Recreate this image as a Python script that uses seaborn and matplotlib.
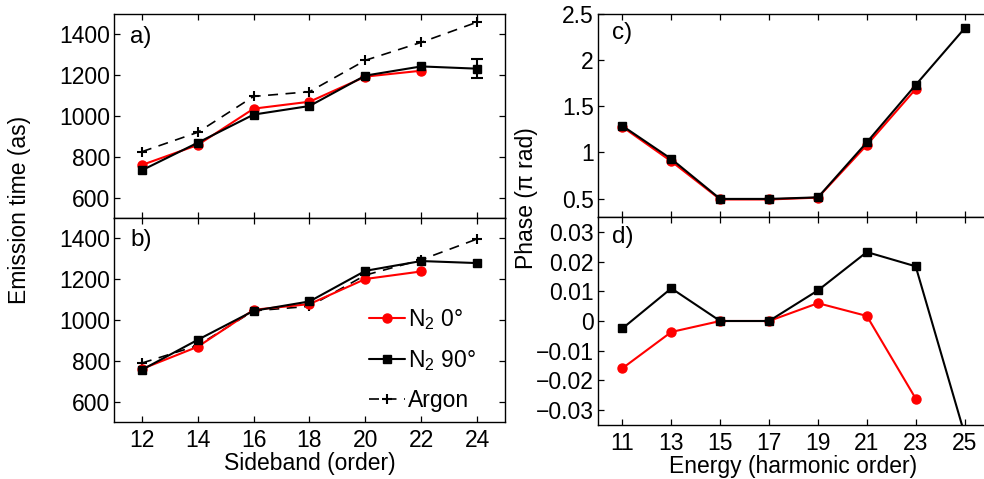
"""Emission times per sideband (a, b) and spectral phase per harmonic (c, d)."""

import matplotlib

matplotlib.use("Agg")
import matplotlib.pyplot as plt
import seaborn as sns
from matplotlib.ticker import FuncFormatter

# --- data ---------------------------------------------------------------
sidebands = [12, 14, 16, 18, 20, 22, 24]
harmonics = [11, 13, 15, 17, 19, 21, 23, 25]

# a) emission time (as)
a_n2_0 = [760, 858, 1036, 1070, 1193, 1222]
a_n2_90 = [734, 869, 1007, 1049, 1198, 1243, 1232]
a_argon = [825, 920, 1096, 1119, 1273, 1361, 1460]
a_err_sb = 24
a_err = 46

# b) emission time (as)
b_n2_0 = [760, 869, 1050, 1078, 1201, 1238]
b_n2_90 = [756, 903, 1045, 1091, 1241, 1289, 1279]
b_argon = [789, 875, 1045, 1067, 1220, 1295, 1397]

# c) phase (pi rad)
c_n2_0 = [1.276, 0.903, 0.49, 0.49, 0.51, 1.08, 1.687]
c_n2_90 = [1.287, 0.929, 0.496, 0.496, 0.513, 1.109, 1.731, 2.344]

# d) phase (pi rad)
d_n2_0 = [-0.0159, -0.0037, 0.0, 0.0, 0.006, 0.0017, -0.0261]
d_n2_90 = [-0.0025, 0.011, 0.0, 0.0, 0.0103, 0.0232, 0.0184, -0.038]

labels = ["N$_2$ 0°", "N$_2$ 90°", "Argon"]

RED = "#ff0000"
BLACK = "#000000"
FS = 16.5
W, H = 984, 479

sns.set_style("ticks")
plt.rcParams["font.family"] = ["Liberation Sans", "DejaVu Sans"]
plt.rcParams["mathtext.fontset"] = "custom"
plt.rcParams["mathtext.rm"] = "Liberation Sans"
plt.rcParams.update({
    "font.size": FS,
    "text.color": BLACK,
    "axes.labelcolor": BLACK,
    "axes.edgecolor": BLACK,
    "xtick.color": BLACK,
    "ytick.color": BLACK,
    "axes.linewidth": 1.0,
    "xtick.direction": "in",
    "ytick.direction": "in",
    "xtick.top": True,
    "ytick.right": True,
    "xtick.major.size": 4,
    "ytick.major.size": 4,
    "xtick.major.width": 0.9,
    "ytick.major.width": 0.9,
    "xtick.labelsize": FS,
    "ytick.labelsize": FS,
})


def _box(px_left, px_top, px_right, px_bottom):
    return [px_left / W, 1 - px_bottom / H,
            (px_right - px_left) / W, (px_bottom - px_top) / H]


def _red(ax, x, y, label=None):
    sns.lineplot(x=x, y=y, ax=ax, color=RED, lw=1.5, marker="o", ms=6.5,
                 markeredgecolor=RED, markeredgewidth=1, label=label)


def _black(ax, x, y, label=None):
    sns.lineplot(x=x, y=y, ax=ax, color=BLACK, lw=1.5, marker="s", ms=5.5,
                 markeredgecolor=BLACK, markeredgewidth=1, label=label)


def _argon(ax, x, y, label=None):
    sns.lineplot(x=x, y=y, ax=ax, color=BLACK, lw=1.2, linestyle=(0, (6, 4.5)),
                 marker="+", ms=7, markeredgecolor=BLACK,
                 markeredgewidth=1.5, label=label)


fig = plt.figure(figsize=(W / 100, H / 100), dpi=100)
ax_a = fig.add_axes(_box(114, 14, 505, 218))
ax_b = fig.add_axes(_box(114, 218, 505, 422))
ax_c = fig.add_axes(_box(598, 14, 989, 217))
ax_d = fig.add_axes(_box(598, 217, 989, 425))

# a)
_argon(ax_a, sidebands, a_argon)
_red(ax_a, sidebands[:len(a_n2_0)], a_n2_0)
_black(ax_a, sidebands, a_n2_90)
ax_a.errorbar(a_err_sb, a_n2_90[-1], yerr=a_err, fmt="none", ecolor=BLACK,
              elinewidth=1.5, capsize=4, capthick=1.5)

# b)
_argon(ax_b, sidebands, b_argon, label=labels[2])
_red(ax_b, sidebands[:len(b_n2_0)], b_n2_0, label=labels[0])
_black(ax_b, sidebands, b_n2_90, label=labels[1])

# c)
_red(ax_c, harmonics[:len(c_n2_0)], c_n2_0)
_black(ax_c, harmonics, c_n2_90)

# d)
_red(ax_d, harmonics[:len(d_n2_0)], d_n2_0)
_black(ax_d, harmonics, d_n2_90)

for ax in (ax_a, ax_b):
    ax.set_xlim(11, 25)
    ax.set_ylim(500, 1500)
    ax.set_xticks(sidebands)
    ax.set_yticks([600, 800, 1000, 1200, 1400])

for ax in (ax_c, ax_d):
    ax.set_xlim(10, 26)
    ax.set_xticks(harmonics)
    ax.tick_params(axis="y", right=False)

ax_c.set_ylim(0.3, 2.5)
ax_c.set_yticks([0.5, 1, 1.5, 2, 2.5])
ax_d.set_ylim(-0.035, 0.035)
ax_d.set_yticks([-0.03, -0.02, -0.01, 0, 0.01, 0.02, 0.03])

fmt = FuncFormatter(lambda v, _: f"{v:g}".replace("-", "\u2212"))
for ax in (ax_a, ax_b, ax_c, ax_d):
    ax.yaxis.set_major_formatter(fmt)
    ax.tick_params(axis="y", pad=3)
    ax.tick_params(axis="x", pad=5)
    for s in ax.spines.values():
        s.set_visible(True)
    ax.set_xlabel("")
    ax.set_ylabel("")

ax_a.tick_params(labelbottom=False)
ax_c.tick_params(labelbottom=False)

ax_b.set_xlabel("Sideband (order)", fontsize=FS, labelpad=0)
ax_d.set_xlabel("Energy (harmonic order)", fontsize=FS, labelpad=0)

for ax, tag, x, y in ((ax_a, "a)", 0.041, 0.889), (ax_b, "b)", 0.041, 0.892),
                      (ax_c, "c)", 0.035, 0.906), (ax_d, "d)", 0.035, 0.905)):
    ax.text(x, y, tag, transform=ax.transAxes, fontsize=FS + 1,
            ha="left", va="center")

fig.text(20 / W, 1 - 210 / H, "Emission time (as)", rotation=90,
         ha="center", va="center", fontsize=FS)
fig.text(526 / W, 1 - 198.5 / H, "Phase (π rad)", rotation=90,
         ha="center", va="center", fontsize=FS)

# legend: N2 0, N2 90, Argon
handles, labs = ax_b.get_legend_handles_labels()
order = [labs.index(l) for l in labels]
ax_b.legend([handles[i] for i in order], [labs[i] for i in order],
            loc="lower right", bbox_to_anchor=(0.955, -0.005), frameon=False,
            borderpad=0, handlelength=1.55, handletextpad=0.15,
            labelspacing=0.7, fontsize=FS)
for ax in (ax_a, ax_c, ax_d):
    if ax.get_legend() is not None:
        ax.get_legend().remove()

fig.savefig("out.png", dpi=100)
